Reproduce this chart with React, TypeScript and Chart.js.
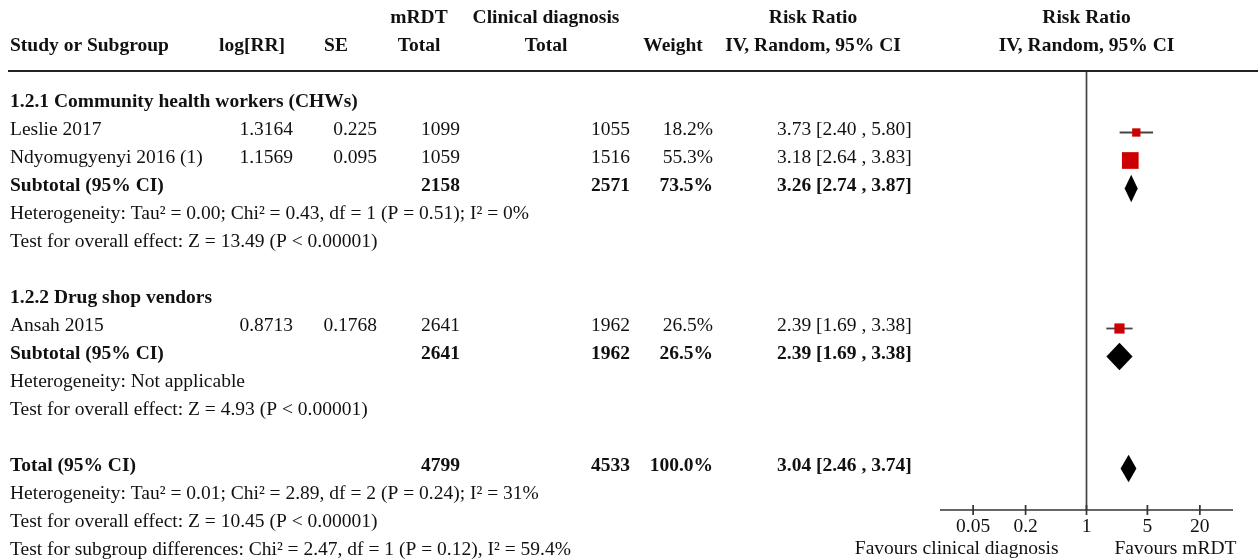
import React, { useEffect, useRef } from "react";
import { Chart, registerables } from "chart.js";

Chart.register(...registerables);

// ---- data ----
const studyNames = ["Leslie 2017", "Ndyomugyenyi 2016 (1)", "Ansah 2015"];
const studyRows = [1, 2, 8];
const logRR = ["1.3164", "1.1569", "0.8713"];
const seValues = ["0.225", "0.095", "0.1768"];
const mrdtTotals = [1099, 1059, 2641];
const clinicalTotals = [1055, 1516, 1962];
const studyWeights = [18.2, 55.3, 26.5];
const studyRR = [3.73, 3.18, 2.39];
const studyLow = [2.4, 2.64, 1.69];
const studyHigh = [5.8, 3.83, 3.38];

const subgroupTitles = ["1.2.1 Community health workers (CHWs)", "1.2.2 Drug shop vendors"];
const subgroupTitleRows = [0, 7];

const summaryLabels = ["Subtotal (95% CI)", "Subtotal (95% CI)", "Total (95% CI)"];
const summaryRows = [3, 9, 13];
const summaryMrdt = [2158, 2641, 4799];
const summaryClinical = [2571, 1962, 4533];
const summaryWeights = [73.5, 26.5, 100.0];
const summaryRR = [3.26, 2.39, 3.04];
const summaryLow = [2.74, 1.69, 2.46];
const summaryHigh = [3.87, 3.38, 3.74];

const noteRows = [4, 5, 10, 11, 14, 15, 16];
const notes = [
  "Heterogeneity: Tau\u00b2 = 0.00; Chi\u00b2 = 0.43, df = 1 (P = 0.51); I\u00b2 = 0%",
  "Test for overall effect: Z = 13.49 (P < 0.00001)",
  "Heterogeneity: Not applicable",
  "Test for overall effect: Z = 4.93 (P < 0.00001)",
  "Heterogeneity: Tau\u00b2 = 0.01; Chi\u00b2 = 2.89, df = 2 (P = 0.24); I\u00b2 = 31%",
  "Test for overall effect: Z = 10.45 (P < 0.00001)",
  "Test for subgroup differences: Chi\u00b2 = 2.47, df = 1 (P = 0.12), I\u00b2 = 59.4%",
];

const xTicks = [0.05, 0.2, 1, 5, 20];
const xTickLabels = ["0.05", "0.2", "1", "5", "20"];
const favourLabels = ["Favours clinical diagnosis", "Favours mRDT"];

// ---- styling ----
const FONT = '"Liberation Serif", "Times New Roman", serif';
const SIZE = 19.5;
const TEXT = "#111";
const RED = "#cc0000";

const fmtCI = (r: number, l: number, h: number) =>
  `${r.toFixed(2)} [${l.toFixed(2)} , ${h.toFixed(2)}]`;

const COL = {
  study: 10,
  logRR: 293,
  se: 377,
  mrdt: 460,
  clin: 630,
  weight: 713,
  ci: 777,
};
const HEAD = {
  logRR: 252,
  se: 336,
  mrdt: 419,
  clin: 546,
  weight: 673,
  ci: 813,
};

const forestPlugin = {
  id: "forest",
  beforeDatasetsDraw(chart: any) {
    const { ctx, chartArea, scales } = chart;
    const x1 = scales.x.getPixelForValue(1);
    ctx.save();
    ctx.strokeStyle = "#444";
    ctx.lineWidth = 1.7;
    ctx.beginPath();
    ctx.moveTo(x1, chartArea.top);
    ctx.lineTo(x1, chartArea.bottom);
    ctx.stroke();
    ctx.restore();
  },
  afterDatasetsDraw(chart: any) {
    const { ctx, chartArea, scales } = chart;
    const xs = scales.x;
    const ys = scales.y;
    const base = (row: number) => ys.getPixelForValue(row) + 2;
    ctx.save();

    // diamonds
    ctx.fillStyle = "#000";
    for (let i = 0; i < summaryRR.length; i++) {
      const cy = ys.getPixelForValue(summaryRows[i]);
      const xl = xs.getPixelForValue(summaryLow[i]);
      const xm = xs.getPixelForValue(summaryRR[i]);
      const xh = xs.getPixelForValue(summaryHigh[i]);
      ctx.beginPath();
      ctx.moveTo(xl, cy);
      ctx.lineTo(xm, cy - 13.7);
      ctx.lineTo(xh, cy);
      ctx.lineTo(xm, cy + 13.7);
      ctx.closePath();
      ctx.fill();
    }

    const text = (s: string, x: number, y: number, align: CanvasTextAlign, bold = false) => {
      ctx.font = `${bold ? "bold " : ""}${SIZE}px ${FONT}`;
      ctx.textAlign = align;
      ctx.textBaseline = "alphabetic";
      ctx.fillStyle = TEXT;
      ctx.fillText(s, x, y);
    };

    // headers
    const x1 = xs.getPixelForValue(1);
    const h1 = 23;
    const h2 = 51;
    text("mRDT", HEAD.mrdt, h1, "center", true);
    text("Clinical diagnosis", HEAD.clin, h1, "center", true);
    text("Risk Ratio", HEAD.ci, h1, "center", true);
    text("Risk Ratio", x1, h1, "center", true);
    text("Study or Subgroup", COL.study, h2, "left", true);
    text("log[RR]", HEAD.logRR, h2, "center", true);
    text("SE", HEAD.se, h2, "center", true);
    text("Total", HEAD.mrdt, h2, "center", true);
    text("Total", HEAD.clin, h2, "center", true);
    text("Weight", HEAD.weight, h2, "center", true);
    text("IV, Random, 95% CI", HEAD.ci, h2, "center", true);
    text("IV, Random, 95% CI", x1, h2, "center", true);

    // header rule
    ctx.strokeStyle = "#222";
    ctx.lineWidth = 2;
    ctx.beginPath();
    ctx.moveTo(8, chartArea.top);
    ctx.lineTo(1258, chartArea.top);
    ctx.stroke();

    // subgroup titles
    subgroupTitles.forEach((t, i) => text(t, COL.study, base(subgroupTitleRows[i]), "left", true));

    // studies
    studyNames.forEach((n, i) => {
      const y = base(studyRows[i]);
      text(n, COL.study, y, "left");
      text(logRR[i], COL.logRR, y, "right");
      text(seValues[i], COL.se, y, "right");
      text(String(mrdtTotals[i]), COL.mrdt, y, "right");
      text(String(clinicalTotals[i]), COL.clin, y, "right");
      text(`${studyWeights[i].toFixed(1)}%`, COL.weight, y, "right");
      text(fmtCI(studyRR[i], studyLow[i], studyHigh[i]), COL.ci, y, "left");
    });

    // summaries
    summaryLabels.forEach((n, i) => {
      const y = base(summaryRows[i]);
      text(n, COL.study, y, "left", true);
      text(String(summaryMrdt[i]), COL.mrdt, y, "right", true);
      text(String(summaryClinical[i]), COL.clin, y, "right", true);
      text(`${summaryWeights[i].toFixed(1)}%`, COL.weight, y, "right", true);
      text(fmtCI(summaryRR[i], summaryLow[i], summaryHigh[i]), COL.ci, y, "left", true);
    });

    // notes
    notes.forEach((n, i) => text(n, COL.study, base(noteRows[i]), "left"));

    // x axis
    const ay = chartArea.bottom;
    ctx.strokeStyle = "#333";
    ctx.lineWidth = 1.7;
    ctx.beginPath();
    ctx.moveTo(chartArea.left, ay);
    ctx.lineTo(chartArea.right, ay);
    xTicks.forEach((t) => {
      const px = xs.getPixelForValue(t);
      ctx.moveTo(px, ay - 5);
      ctx.lineTo(px, ay + 5);
    });
    ctx.stroke();
    xTicks.forEach((t, i) => text(xTickLabels[i], xs.getPixelForValue(t), ay + 22, "center"));
    text(favourLabels[0], x1 - 28, ay + 44, "right");
    text(favourLabels[1], x1 + 28, ay + 44, "left");

    ctx.restore();
  },
};

export default function App() {
  const ref = useRef<HTMLCanvasElement | null>(null);

  useEffect(() => {
    if (!ref.current) return;
    const whiskers = studyRR.map((_, i) => ({
      type: "scatter" as const,
      data: [
        { x: studyLow[i], y: studyRows[i] },
        { x: studyHigh[i], y: studyRows[i] },
      ],
      showLine: true,
      borderColor: "#444",
      borderWidth: 1.8,
      pointRadius: 0,
      order: 2,
    }));
    const squares = {
      type: "scatter" as const,
      data: studyRR.map((v, i) => ({ x: v, y: studyRows[i] })),
      pointStyle: "rect" as const,
      backgroundColor: RED,
      borderWidth: 0,
      pointRadius: studyWeights.map((w) => (4.2 + 0.226 * w) / Math.SQRT2),
      order: 1,
    };
    const chart = new Chart(ref.current, {
      type: "scatter",
      data: { datasets: [...whiskers, squares] as any },
      options: {
        animation: false,
        responsive: false,
        layout: { padding: { left: 940, right: 25, top: 71, bottom: 50 } },
        plugins: { legend: { display: false }, tooltip: { enabled: false } },
        scales: {
          x: { type: "logarithmic", min: 1 / 48, max: 48, display: false },
          y: { type: "linear", min: -33.5 / 28, max: 405.5 / 28, reverse: true, display: false },
        },
      },
      plugins: [forestPlugin],
    });
    return () => chart.destroy();
  }, []);

  return (
    <div style={{ position: "fixed", left: 0, top: 0, width: 1258, height: 560, background: "#fff" }}>
      <canvas ref={ref} width={1258} height={560} style={{ width: 1258, height: 560 }} />
    </div>
  );
}
